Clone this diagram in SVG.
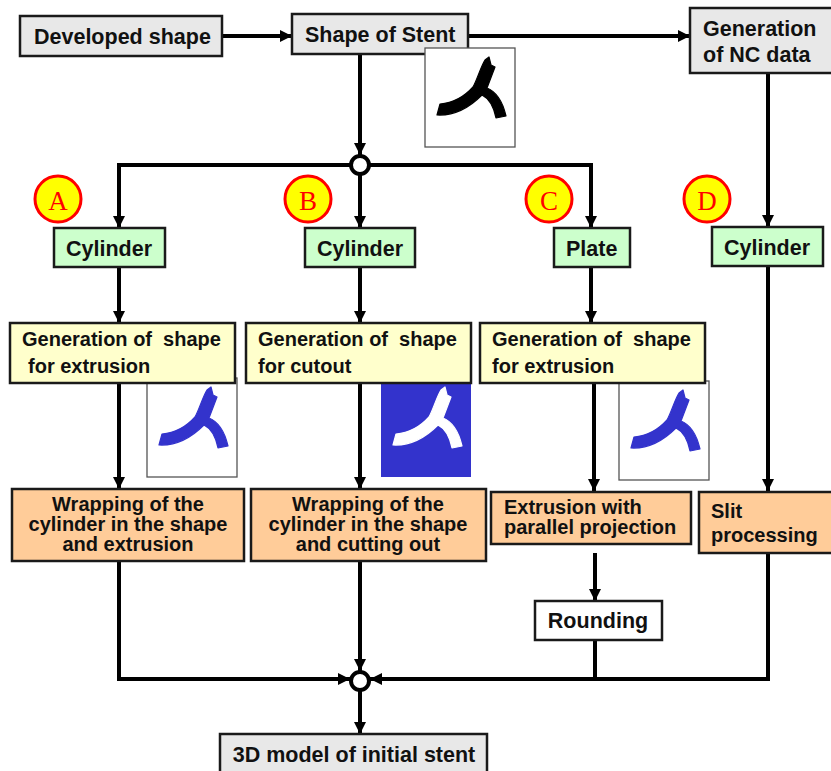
<svg xmlns="http://www.w3.org/2000/svg" width="831" height="771" viewBox="0 0 831 771">
<style>
text{font-family:"Liberation Sans",Arial,sans-serif;font-weight:bold;font-size:20px;fill:#111;white-space:pre}
.l{font-size:21.5px}
.b{stroke:#1a1a1a;stroke-width:2.5}
.gray{fill:#e8e8e8}.green{fill:#ccffcc}.yel{fill:#ffffcc}.org{fill:#ffcc99}
.c{fill:none;stroke:#000;stroke-width:4}
.j{fill:#fff;stroke:#000;stroke-width:4}
.badge circle{fill:#ff0;stroke:#f00;stroke-width:3}
.badge text{font-family:"Liberation Serif",serif;font-weight:normal;font-size:27px;fill:#f00;text-anchor:middle}
.m{text-anchor:middle}
.box{fill:#fff;stroke:#555;stroke-width:1.3}
.s{stroke-width:1.2;stroke-linejoin:round}
</style>
<defs>
<marker id="arr" markerUnits="userSpaceOnUse" markerWidth="13" markerHeight="12" refX="12" refY="6" orient="auto"><path d="M0 0L12 6L0 12z" fill="#000"/></marker>
<path id="stent" d="M64 9L66 17L70 19L62 40C72 44 78 55 81 68L71 70C69 60 65 51 57 47C46 58 30 68 12 67L15 56C28 55 40 48 48 39C52 32 56 18 60 12z"/>
</defs>
<g id="connectors">
<path class="c" marker-end="url(#arr)" d="M222 36H292"/>
<path class="c" marker-end="url(#arr)" d="M468 36H690"/>
<path class="c" marker-end="url(#arr)" d="M360 54V155"/>
<path class="c" marker-end="url(#arr)" d="M350 165H119V228"/>
<path class="c" marker-end="url(#arr)" d="M360 175V228"/>
<path class="c" marker-end="url(#arr)" d="M370 165H591V228"/>
<path class="c" marker-end="url(#arr)" d="M768 73V227"/>
<path class="c" marker-end="url(#arr)" d="M119 267V323"/>
<path class="c" marker-end="url(#arr)" d="M360 267V323"/>
<path class="c" marker-end="url(#arr)" d="M591 267V323"/>
<path class="c" marker-end="url(#arr)" d="M119 383V489"/>
<path class="c" marker-end="url(#arr)" d="M360 383V489"/>
<path class="c" marker-end="url(#arr)" d="M594 383V491"/>
<path class="c" marker-end="url(#arr)" d="M768 266V491"/>
<path class="c" marker-end="url(#arr)" d="M595 553V601"/>
<path class="c" marker-end="url(#arr)" d="M119 561V679H350"/>
<path class="c" marker-end="url(#arr)" d="M360 561V671"/>
<path class="c" marker-end="url(#arr)" d="M768 553V679H370"/>
<path class="c" d="M595 640V679"/>
<path class="c" marker-end="url(#arr)" d="M360 691V734"/>
</g>
<g id="junction-top"><circle class="j" cx="360" cy="165" r="9"/></g>
<g id="junction-bottom"><circle class="j" cx="360" cy="681" r="9"/></g>
<g id="developed-shape"><rect class="b gray" x="20" y="16" width="202" height="40"/><text class="l" x="34" y="44">Developed shape</text></g>
<g id="shape-of-stent"><rect class="b gray" x="292" y="14" width="176" height="40"/><text class="l" x="305" y="42">Shape of Stent</text></g>
<g id="stent-image"><rect class="box" x="425" y="48" width="90" height="99"/><use class="s" href="#stent" x="425" y="48" fill="#000" stroke="#000"/></g>
<g id="nc-data"><rect class="b gray" x="690" y="8" width="145" height="65"/><text class="l" x="703" y="36">Generation</text><text class="l" x="703" y="62">of NC data</text></g>
<g id="badge-a" class="badge"><circle cx="58" cy="199" r="23"/><text x="58" y="210">A</text></g>
<g id="badge-b" class="badge"><circle cx="308" cy="199" r="23"/><text x="308" y="210">B</text></g>
<g id="badge-c" class="badge"><circle cx="549" cy="199" r="23"/><text x="549" y="210">C</text></g>
<g id="badge-d" class="badge"><circle cx="707" cy="199" r="23"/><text x="707" y="210">D</text></g>
<g id="cylinder-a"><rect class="b green" x="54" y="228" width="111" height="39"/><text class="l" x="66" y="256">Cylinder</text></g>
<g id="cylinder-b"><rect class="b green" x="305" y="228" width="110" height="39"/><text class="l" x="317" y="256">Cylinder</text></g>
<g id="plate-c"><rect class="b green" x="554" y="228" width="76" height="39"/><text class="l" x="566" y="256">Plate</text></g>
<g id="cylinder-d"><rect class="b green" x="712" y="227" width="111" height="39"/><text class="l" x="724" y="255">Cylinder</text></g>
<g id="image-a"><rect class="box" x="147" y="378" width="90" height="99"/><use class="s" href="#stent" x="147" y="378" fill="#3333cc" stroke="#3333cc"/></g>
<g id="image-b"><rect x="381" y="384" width="90" height="93" fill="#3333cc"/><use class="s" href="#stent" x="381" y="378" fill="#fff" stroke="#fff"/></g>
<g id="image-c"><rect class="box" x="619" y="381" width="90" height="99"/><use class="s" href="#stent" x="619" y="381" fill="#3333cc" stroke="#3333cc"/></g>
<g id="gen-a"><rect class="b yel" x="10" y="323" width="225" height="60"/><text x="22" y="346">Generation of  shape</text><text x="28" y="373">for extrusion</text></g>
<g id="gen-b"><rect class="b yel" x="246" y="323" width="225" height="60"/><text x="258" y="346">Generation of  shape</text><text x="258" y="373">for cutout</text></g>
<g id="gen-c"><rect class="b yel" x="480" y="323" width="225" height="60"/><text x="492" y="346">Generation of  shape</text><text x="492" y="373">for extrusion</text></g>
<g id="wrap-a"><rect class="b org" x="12" y="489" width="232" height="72"/><text class="m" x="128" y="511">Wrapping of the</text><text class="m" x="128" y="531">cylinder in the shape</text><text class="m" x="128" y="551">and extrusion</text></g>
<g id="wrap-b"><rect class="b org" x="251" y="489" width="235" height="72"/><text class="m" x="368" y="511">Wrapping of the</text><text class="m" x="368" y="531">cylinder in the shape</text><text class="m" x="368" y="551">and cutting out</text></g>
<g id="extrusion-c"><rect class="b org" x="491" y="492" width="200" height="52"/><text x="504" y="514">Extrusion with</text><text x="504" y="534">parallel projection</text></g>
<g id="slit-d"><rect class="b org" x="699" y="492" width="136" height="61"/><text x="711" y="518">Slit</text><text x="711" y="542">processing</text></g>
<g id="rounding"><rect class="b" fill="#fff" x="535" y="601" width="127" height="39"/><text class="l m" x="598" y="628">Rounding</text></g>
<g id="model"><rect class="b gray" x="220" y="734" width="267" height="45"/><text class="l m" x="354" y="762">3D model of initial stent</text></g>
</svg>
